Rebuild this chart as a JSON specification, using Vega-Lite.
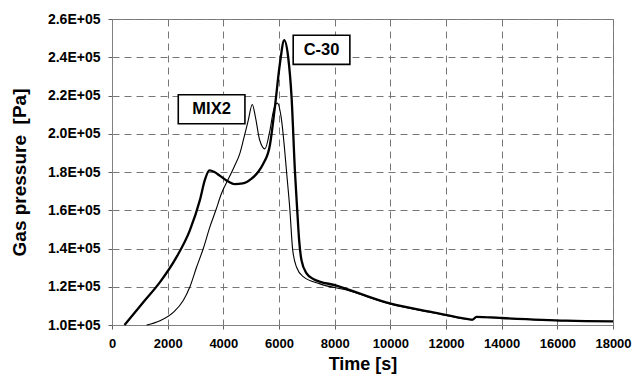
{
  "$schema": "https://vega.github.io/schema/vega-lite/v6.json",
  "width": 501,
  "height": 306,
  "autosize": {"type": "none"},
  "padding": {"left": 112, "top": 19, "right": 23, "bottom": 56},
  "background": "white",
  "config": {
    "view": {"stroke": "#808080", "strokeWidth": 1},
    "font": "Liberation Sans",
    "axis": {
      "domainColor": "#808080",
      "tickColor": "#606060",
      "tickSize": 4,
      "gridColor": "#777777",
      "gridDash": [7, 5],
      "gridWidth": 1,
      "labelFont": "Liberation Sans",
      "labelFontWeight": "bold",
      "labelColor": "black",
      "labelOverlap": false,
      "labelFlush": false,
      "titleFont": "Liberation Sans",
      "titleFontWeight": "bold",
      "titleColor": "black"
    }
  },
  "datasets": {
    "curves": [
      {"series": "C-30", "t": 450, "p": 100000},
      {"series": "C-30", "t": 1124, "p": 111900},
      {"series": "C-30", "t": 1724, "p": 122400},
      {"series": "C-30", "t": 2322, "p": 135600},
      {"series": "C-30", "t": 2800, "p": 149600},
      {"series": "C-30", "t": 3160, "p": 165400},
      {"series": "C-30", "t": 3340, "p": 176000},
      {"series": "C-30", "t": 3500, "p": 180800},
      {"series": "C-30", "t": 3680, "p": 180000},
      {"series": "C-30", "t": 3880, "p": 178000},
      {"series": "C-30", "t": 4180, "p": 175000},
      {"series": "C-30", "t": 4400, "p": 173700},
      {"series": "C-30", "t": 4700, "p": 174000},
      {"series": "C-30", "t": 5015, "p": 176500},
      {"series": "C-30", "t": 5250, "p": 180000},
      {"series": "C-30", "t": 5434, "p": 184300},
      {"series": "C-30", "t": 5673, "p": 194000},
      {"series": "C-30", "t": 5853, "p": 214000},
      {"series": "C-30", "t": 6032, "p": 236600},
      {"series": "C-30", "t": 6188, "p": 248900},
      {"series": "C-30", "t": 6330, "p": 240000},
      {"series": "C-30", "t": 6452, "p": 219000},
      {"series": "C-30", "t": 6571, "p": 180800},
      {"series": "C-30", "t": 6654, "p": 160200},
      {"series": "C-30", "t": 6725, "p": 144100},
      {"series": "C-30", "t": 6810, "p": 133700},
      {"series": "C-30", "t": 6990, "p": 127000},
      {"series": "C-30", "t": 7230, "p": 124100},
      {"series": "C-30", "t": 8067, "p": 120600},
      {"series": "C-30", "t": 9982, "p": 111300},
      {"series": "C-30", "t": 11537, "p": 106600},
      {"series": "C-30", "t": 12794, "p": 103100},
      {"series": "C-30", "t": 12950, "p": 102800},
      {"series": "C-30", "t": 13095, "p": 104300},
      {"series": "C-30", "t": 13932, "p": 103700},
      {"series": "C-30", "t": 16327, "p": 102300},
      {"series": "C-30", "t": 18000, "p": 101900},
      {"series": "MIX2", "t": 1245, "p": 100000},
      {"series": "MIX2", "t": 1725, "p": 102200},
      {"series": "MIX2", "t": 2200, "p": 106600},
      {"series": "MIX2", "t": 2560, "p": 112800},
      {"series": "MIX2", "t": 2800, "p": 120000},
      {"series": "MIX2", "t": 3040, "p": 130300},
      {"series": "MIX2", "t": 3280, "p": 140000},
      {"series": "MIX2", "t": 3520, "p": 151400},
      {"series": "MIX2", "t": 3730, "p": 160000},
      {"series": "MIX2", "t": 3940, "p": 169000},
      {"series": "MIX2", "t": 4150, "p": 175500},
      {"series": "MIX2", "t": 4400, "p": 183000},
      {"series": "MIX2", "t": 4600, "p": 190000},
      {"series": "MIX2", "t": 4716, "p": 196500},
      {"series": "MIX2", "t": 4895, "p": 207000},
      {"series": "MIX2", "t": 5040, "p": 215300},
      {"series": "MIX2", "t": 5150, "p": 209000},
      {"series": "MIX2", "t": 5300, "p": 197000},
      {"series": "MIX2", "t": 5494, "p": 192100},
      {"series": "MIX2", "t": 5673, "p": 201700},
      {"series": "MIX2", "t": 5800, "p": 212000},
      {"series": "MIX2", "t": 5937, "p": 216000},
      {"series": "MIX2", "t": 6093, "p": 207000},
      {"series": "MIX2", "t": 6200, "p": 192000},
      {"series": "MIX2", "t": 6272, "p": 180000},
      {"series": "MIX2", "t": 6391, "p": 160200},
      {"series": "MIX2", "t": 6488, "p": 139800},
      {"series": "MIX2", "t": 6631, "p": 130200},
      {"series": "MIX2", "t": 6870, "p": 125300},
      {"series": "MIX2", "t": 7470, "p": 121500},
      {"series": "MIX2", "t": 8427, "p": 118300},
      {"series": "MIX2", "t": 9982, "p": 111000},
      {"series": "MIX2", "t": 11537, "p": 106400},
      {"series": "MIX2", "t": 12794, "p": 103000},
      {"series": "MIX2", "t": 12950, "p": 102700},
      {"series": "MIX2", "t": 13095, "p": 104200},
      {"series": "MIX2", "t": 13932, "p": 103600},
      {"series": "MIX2", "t": 16327, "p": 102200},
      {"series": "MIX2", "t": 18000, "p": 101800}
    ],
    "boxes": [
      {"label": "MIX2", "x1": 2381, "x2": 4776, "y1": 205200, "y2": 220400, "xc": 3578, "yc": 212800},
      {"label": "C-30", "x1": 6510, "x2": 8546, "y1": 236300, "y2": 251500, "xc": 7528, "yc": 243900}
    ]
  },
  "layer": [
    {
      "data": {"name": "curves"},
      "transform": [{"filter": "datum.series === 'MIX2'"}],
      "mark": {"type": "line", "color": "black", "strokeWidth": 1.1, "interpolate": "monotone"},
      "encoding": {
        "x": {
          "field": "t", "type": "quantitative",
          "scale": {"domain": [0, 18000], "nice": false},
          "axis": {
            "values": [0, 2000, 4000, 6000, 8000, 10000, 12000, 14000, 16000, 18000],
            "format": "d",
            "labelFontSize": 13,
            "labelPadding": 8,
            "labelOverlap": false,
            "labelFlush": false,
            "title": "Time [s]",
            "titleFontSize": 18,
            "titlePadding": 5
          }
        },
        "y": {
          "field": "p", "type": "quantitative",
          "scale": {"domain": [100000, 260000], "nice": false, "zero": false},
          "axis": {
            "tickCount": 8,
            "labelExpr": "format(datum.value / 100000, '.1f') + 'E+05'",
            "labelFontSize": 14,
            "labelPadding": 8,
            "labelOverlap": false,
            "labelSeparation": 0,
            "labelFlush": false,
            "title": "Gas pressure \u00a0[Pa]",
            "titleFontSize": 19,
            "titlePadding": 18
          }
        }
      }
    },
    {
      "data": {"name": "curves"},
      "transform": [{"filter": "datum.series === 'C-30'"}],
      "mark": {"type": "line", "color": "black", "strokeWidth": 2.3, "interpolate": "monotone"},
      "encoding": {
        "x": {"field": "t", "type": "quantitative"},
        "y": {"field": "p", "type": "quantitative"}
      }
    },
    {
      "data": {"name": "boxes"},
      "mark": {"type": "rect", "fill": "white", "stroke": "black", "strokeWidth": 1.6},
      "encoding": {
        "x": {"field": "x1", "type": "quantitative"},
        "x2": {"field": "x2"},
        "y": {"field": "y1", "type": "quantitative"},
        "y2": {"field": "y2"}
      }
    },
    {
      "data": {"name": "boxes"},
      "mark": {"type": "text", "font": "Liberation Sans", "fontWeight": "bold", "fontSize": 16.5, "color": "black", "align": "center", "baseline": "middle"},
      "encoding": {
        "x": {"field": "xc", "type": "quantitative"},
        "y": {"field": "yc", "type": "quantitative"},
        "text": {"field": "label"}
      }
    }
  ]
}
